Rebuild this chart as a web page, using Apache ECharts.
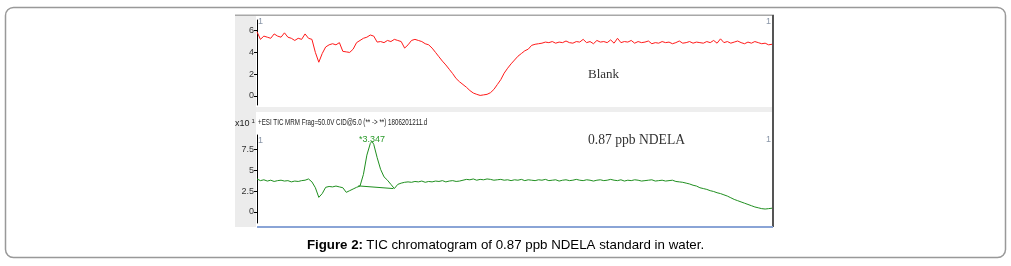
<!DOCTYPE html>
<html>
<head>
<meta charset="utf-8">
<title>TIC chromatogram</title>
<script src="https://cdn.jsdelivr.net/npm/echarts@6/dist/echarts.min.js"></script>
<style>
  html, body { margin: 0; padding: 0; background: #fff; }
  #main { width: 1011px; height: 266px; }
</style>
</head>
<body>
<div id="main"></div>
<script>
// 时间轴 0 ~ 15 min, 每 0.1 min 一个点
const timeStart = 0;
const timeStep = 0.1;

// Blank (红线)
const blankValues = [
  5.9, 5.2, 5.5, 5.4, 5.3, 5.7, 5.5, 5.4, 5.8, 5.4, 5.3, 5.1, 5.3, 5.2, 5.7, 5.3,
  5.2, 4.0, 3.1, 3.9, 4.5, 4.7, 4.8, 4.7, 4.9, 4.1, 4.05, 4.0, 4.3, 4.9,
  5.1, 5.3, 5.4, 5.6, 5.5, 4.95, 5.0, 4.9, 5.1, 5.0, 5.2, 5.1, 5.0, 4.4, 4.7, 5.1, 5.2, 5.1, 5.0, 4.8,
  4.7, 4.4, 4.0, 3.6, 3.2, 2.85, 2.45, 2.05, 1.6, 1.3,
  1.05, 0.8, 0.5, 0.27, 0.15, 0.05, 0.1, 0.15, 0.3, 0.6,
  1.05, 1.5, 2.1, 2.55, 2.95, 3.3, 3.65, 3.9, 4.15, 4.3, 4.65, 4.75, 4.8, 4.85, 4.95,
  4.9, 5.0, 4.85, 4.95, 4.9, 5.05, 4.9, 4.85, 5.0, 4.95,
  5.2, 4.9, 5.0, 4.8, 5.1, 4.95, 5.0, 4.9, 5.15, 4.85,
  5.3, 4.9, 5.0, 4.95, 5.1, 4.85, 5.0, 4.9, 4.95, 5.05,
  4.8, 4.9, 4.85, 5.0, 4.9, 4.95, 4.8, 4.9, 5.05, 4.85,
  4.9, 5.0, 4.85, 4.95, 4.9, 4.85, 5.0, 4.9, 5.1, 4.85,
  5.25, 4.9, 5.0, 4.85, 4.95, 5.05, 4.9, 4.8, 4.95, 4.85,
  5.0, 4.9, 4.8, 4.85, 4.7, 4.75
];

// 0.87 ppb NDELA (绿线)
const ndelaValues = [
  3.95, 3.75, 3.85, 3.7, 3.8, 3.65, 3.75, 3.8, 3.7, 3.75, 3.6, 3.7, 3.65, 3.75, 3.8, 3.95,
  3.6, 2.9, 1.75, 2.2, 2.95, 3.05, 3.0, 3.1, 3.0, 2.9, 2.35, 2.55, 2.75, 2.95, 3.1,
  4.5, 6.8, 8.2, 8.1, 6.5, 5.1, 4.2, 3.8, 3.3, 2.8, 3.3, 3.45, 3.55,
  3.6, 3.55, 3.65, 3.6, 3.7, 3.55, 3.65, 3.6, 3.7, 3.65, 3.75, 3.6, 3.7, 3.75, 3.65, 3.7,
  3.8, 3.9, 3.85, 3.95, 3.8, 3.9, 3.85, 3.95, 3.9, 3.8, 3.85, 3.9, 3.8, 3.85, 3.75, 3.85, 3.8, 3.9, 3.75, 3.85,
  3.8, 3.75, 3.85, 3.8, 3.9, 3.75, 3.8, 3.85, 3.7, 3.8, 3.85, 3.75, 3.8, 3.9, 3.8, 3.75, 3.85, 3.8, 3.7, 3.8,
  3.85, 3.75, 3.8, 3.9, 3.8, 3.75, 3.85, 3.7, 3.8, 3.75, 3.85, 3.8, 3.7, 3.75, 3.8, 3.85, 3.7, 3.75, 3.8, 3.7,
  3.75, 3.8, 3.65, 3.6, 3.55, 3.45, 3.35, 3.2, 3.1, 2.9,
  2.8, 2.7, 2.55, 2.45, 2.3, 2.2, 2.05, 1.9, 1.7, 1.5,
  1.35, 1.2, 1.05, 0.9, 0.75, 0.6, 0.5, 0.4, 0.35, 0.4, 0.45
];

// 峰顶 & 积分基线
const peakTime = 3.347;
const peakValue = 8.45;
const peakBaseTimes = [2.95, 3.97];
const peakBaseValues = [3.12, 2.8];

// 刻度
const blankTicks = [0, 2, 4, 6];
const ndelaTicks = [0, 2.5, 5, 7.5];

function toPairs(values) {
  return values.map((v, i) => [+(timeStart + i * timeStep).toFixed(2), v]);
}

let ndelaData = toPairs(ndelaValues);
ndelaData.push([peakTime, peakValue]);
ndelaData.sort((a, b) => a[0] - b[0]);

const tickLabel = { fontSize: 9, color: '#333', margin: 3, fontFamily: 'Liberation Sans' };
const tick = { length: 3, lineStyle: { color: '#000' } };

const chart = echarts.init(document.getElementById('main'));
const option = {
  animation: false,
  backgroundColor: '#fff',
  grid: [
    { left: 257, right: 239, top: 20, height: 85 },
    { left: 257, right: 239, top: 135, height: 88 }
  ],
  xAxis: [
    { gridIndex: 0, type: 'value', min: 0, max: 15, show: false },
    { gridIndex: 1, type: 'value', min: 0, max: 15, show: false }
  ],
  yAxis: [
    {
      gridIndex: 0, type: 'value', min: -0.83, max: 6.98,
      splitLine: { show: false },
      axisLine: { show: true, lineStyle: { color: '#000', width: 1 } },
      axisTick: Object.assign({ customValues: blankTicks }, tick),
      axisLabel: Object.assign({ customValues: blankTicks }, tickLabel)
    },
    {
      gridIndex: 1, type: 'value', min: -1.32, max: 9.21,
      splitLine: { show: false },
      axisLine: { show: true, lineStyle: { color: '#000', width: 1 } },
      axisTick: Object.assign({ customValues: ndelaTicks }, tick),
      axisLabel: Object.assign({ customValues: ndelaTicks }, tickLabel)
    }
  ],
  series: [
    {
      name: 'Blank', type: 'line', xAxisIndex: 0, yAxisIndex: 0,
      data: toPairs(blankValues), showSymbol: false,
      lineStyle: { color: '#ff1a1a', width: 1 }
    },
    {
      name: '0.87 ppb NDELA', type: 'line', xAxisIndex: 1, yAxisIndex: 1,
      data: ndelaData, showSymbol: false, clip: false,
      lineStyle: { color: '#1f8f1f', width: 1 },
      markPoint: {
        symbol: 'circle', symbolSize: 0, silent: true,
        data: [{
          coord: [peakTime, peakValue],
          label: { show: true, position: 'top', distance: 0, offset: [0, 3], formatter: '*' + peakTime, color: '#2a9a2a', fontSize: 9, fontFamily: 'Liberation Sans' }
        }]
      }
    },
    {
      name: 'baseline', type: 'line', xAxisIndex: 1, yAxisIndex: 1,
      data: peakBaseTimes.map((t, i) => [t, peakBaseValues[i]]), showSymbol: false,
      lineStyle: { color: '#1f8f1f', width: 1 }
    }
  ],
  graphic: [
    // 外框
    { type: 'rect', z: -2, shape: { x: 5.5, y: 7.5, width: 1000, height: 250, r: 8 }, style: { fill: '#fff', stroke: '#999', lineWidth: 1.5 } },
    // 图片边框
    { type: 'rect', z: -1, shape: { x: 235, y: 15, width: 21, height: 212 }, style: { fill: '#ececec' } },
    { type: 'rect', z: -1, shape: { x: 235, y: 14.5, width: 539, height: 1.5 }, style: { fill: '#a8a8a8' } },
    { type: 'rect', z: -1, shape: { x: 256, y: 107, width: 517, height: 5 }, style: { fill: '#eeeeee' } },
    { type: 'rect', z: -1, shape: { x: 772, y: 15, width: 2, height: 212 }, style: { fill: '#555' } },
    { type: 'rect', z: -1, shape: { x: 257, y: 226, width: 516, height: 2 }, style: { fill: '#8aa4d6' } },
    // 面板标记 "1"
    { type: 'text', z: 10, x: 258, y: 17, style: { text: '1', fontSize: 9, fill: '#8a96a8', fontFamily: 'Liberation Sans' } },
    { type: 'text', z: 10, x: 766, y: 17, style: { text: '1', fontSize: 9, fill: '#8a96a8', fontFamily: 'Liberation Sans' } },
    { type: 'text', z: 10, x: 258, y: 136, style: { text: '1', fontSize: 9, fill: '#8a96a8', fontFamily: 'Liberation Sans' } },
    { type: 'text', z: 10, x: 766, y: 135, style: { text: '1', fontSize: 9, fill: '#8a96a8', fontFamily: 'Liberation Sans' } },
    // 表头
    {
      type: 'text', z: 10, x: 235, y: 124,
      style: {
        text: '{a|x10}{b|1}', verticalAlign: 'middle',
        rich: {
          a: { fontSize: 9, fill: '#222', fontFamily: 'Liberation Sans' },
          b: { fontSize: 6, fill: '#222', fontFamily: 'Liberation Sans', padding: [0, 0, 5, 2] }
        }
      }
    },
    {
      type: 'text', z: 10, x: 258, y: 123, scaleX: 0.69,
      style: { text: '+ESI TIC MRM Frag=50.0V CID@5.0 (** -> **) 1806201211.d', fontSize: 9, fill: '#222', fontFamily: 'Liberation Sans', verticalAlign: 'middle' }
    },
    // 标注
    { type: 'text', z: 10, x: 588, y: 75, style: { text: 'Blank', fontSize: 13, fill: '#333', fontFamily: 'Liberation Serif', verticalAlign: 'middle' } },
    { type: 'text', z: 10, x: 588, y: 140, style: { text: '0.87 ppb NDELA', fontSize: 13.6, fill: '#333', fontFamily: 'Liberation Serif', verticalAlign: 'middle' } },
    // 图注
    {
      type: 'text', z: 10, x: 505.5, y: 245,
      style: {
        text: '{b|Figure 2:} {n|TIC chromatogram of 0.87 ppb NDELA standard in water.}',
        align: 'center', verticalAlign: 'middle',
        rich: {
          b: { fontSize: 13.3, fontWeight: 'bold', fill: '#000', fontFamily: 'Liberation Sans' },
          n: { fontSize: 13.3, fill: '#000', fontFamily: 'Liberation Sans' }
        }
      }
    }
  ]
};
chart.setOption(option);
</script>
</body>
</html>
